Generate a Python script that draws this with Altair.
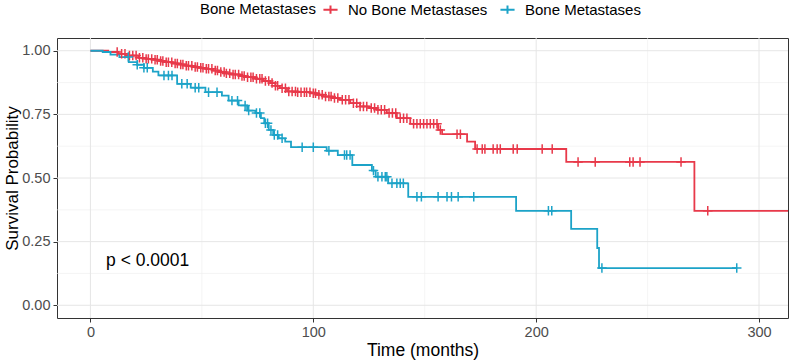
import altair as alt
import numpy as np
import pandas as pd

# Groups and colours
groups = ["No Bone Metastases", "Bone Metastases"]
colors = ["#E8394A", "#1CA3C8"]

# Kaplan-Meier steps: event time (months) and survival just after the event
red_time = [8, 12.6, 17, 21.5, 25, 27.7, 31, 33.6, 37, 39.6, 43, 45.6, 48.5, 51.6, 55, 57.5,
            61, 63.5, 67, 69.5, 74, 77.5, 80.7, 83, 85, 88.2, 93, 98.7, 101.5, 104.6, 108.5,
            112, 116.6, 121, 125, 128.6, 133, 137.5, 143.5, 156, 157.8, 169, 172.6, 213.5, 271]
red_surv = [0.995, 0.988, 0.981, 0.972, 0.968, 0.965, 0.960, 0.955, 0.950, 0.946, 0.941, 0.936,
            0.933, 0.929, 0.922, 0.916, 0.911, 0.907, 0.901, 0.896, 0.890, 0.881, 0.873, 0.862,
            0.853, 0.840, 0.837, 0.833, 0.827, 0.820, 0.814, 0.807, 0.794, 0.781, 0.775, 0.768,
            0.755, 0.735, 0.713, 0.689, 0.672, 0.643, 0.614, 0.563, 0.371]
red_end = 330
red_censor = [12, 14, 15.5, 17.5, 19, 20.5, 22, 23.5, 25, 26, 27.5, 29, 30, 31.5, 32.5, 34, 35,
              36.5, 38, 39, 40.5, 41.5, 43, 44, 45.5, 47, 48, 49.5, 50.5, 52, 53, 54.5, 56, 57,
              58.5, 60, 61, 62.5, 64, 65, 66.5, 68, 69, 70.5, 72, 73, 74.5, 76, 77, 78.5, 80,
              81.5, 83, 84, 86, 87.5, 89, 90.5, 92, 93, 94.5, 96, 97, 98.5, 100, 101, 102.5, 104,
              105.5, 107, 108, 109.5, 111, 113, 114.5, 116, 118, 119.5, 121, 122.5, 124, 126,
              127.5, 129, 130.5, 132, 134, 135.5, 137, 139, 140.5, 142, 145, 146.5, 148, 149.5,
              151, 152.5, 154, 155.5, 157, 164.5, 166, 173.5, 175.8, 177, 180.7, 182.5, 183.9,
              189.7, 191.5, 202.7, 207.2, 218.8, 226.5, 242, 243.5, 246.6, 265, 277]

blue_time = [5.5, 9, 13, 17.2, 21, 24, 28, 30.5, 38.9, 45, 51.6, 59, 62, 66.5, 70.3, 74, 76.5,
             78, 80, 82, 84.5, 87.4, 90, 106, 111, 117.5, 126.3, 128, 133.6, 142.6, 191, 215.7,
             227.4, 228.2]
blue_surv = [0.995, 0.985, 0.975, 0.955, 0.945, 0.933, 0.918, 0.903, 0.870, 0.855, 0.837, 0.824,
             0.804, 0.785, 0.765, 0.755, 0.735, 0.715, 0.689, 0.669, 0.656, 0.643, 0.621, 0.607,
             0.590, 0.551, 0.529, 0.505, 0.479, 0.426, 0.371, 0.300, 0.225, 0.146]
blue_end = 290
blue_censor = [17, 21, 24, 25.5, 33, 35, 36.6, 41, 43.4, 47, 48.6, 53, 56.8, 63.5, 66, 69.4, 71,
               74.5, 76, 78.5, 79.5, 81, 82.5, 84, 86, 95, 100, 107, 114, 115, 116.5, 127, 129,
               130.8, 132.3, 133, 135.3, 137.5, 139, 140.4, 146.5, 148.5, 156, 160, 162, 165, 172,
               205.5, 207, 229.5, 290]

# Axis breaks
x_breaks = [0, 100, 200, 300]
x_minor = [50, 150, 250]
y_breaks = [0, 0.25, 0.5, 0.75, 1.0]
y_minor = [0.125, 0.375, 0.625, 0.875]
x_domain = [-15, 313]
y_domain = [-0.05, 1.05]

pval_text = "p < 0.0001"
pval_time, pval_surv = 7, 0.173

FONT = "Liberation Sans"


def step_rows(name, times, survs, end):
    pts = [(0.0, 1.0)] + list(zip(times, survs)) + [(end, survs[-1])]
    return [{"group": name, "time": t, "surv": s} for t, s in pts]


def censor_rows(name, times, survs, cens):
    times = np.asarray(times, dtype=float)
    rows = []
    for c in cens:
        idx = np.searchsorted(times, c, side="right")
        s = 1.0 if idx == 0 else survs[idx - 1]
        rows.append({"group": name, "time": c, "surv": s})
    return rows


curves = pd.DataFrame(step_rows(groups[0], red_time, red_surv, red_end)
                      + step_rows(groups[1], blue_time, blue_surv, blue_end))
marks = pd.DataFrame(censor_rows(groups[0], red_time, red_surv, red_censor)
                     + censor_rows(groups[1], blue_time, blue_surv, blue_censor))

xs = alt.Scale(domain=x_domain, nice=False, zero=False)
ys = alt.Scale(domain=y_domain, nice=False, zero=False)
cs = alt.Scale(domain=groups, range=colors)

x_axis = alt.Axis(values=x_breaks, title="Time (months)", grid=False, domain=False,
                  tickColor="#333333", tickSize=4, labelFontSize=14.5, labelColor="#4D4D4D",
                  labelFont=FONT, titleFont=FONT, titleFontSize=17.5, titleColor="#000000",
                  titleFontWeight="normal", labelPadding=3, titlePadding=3, format="d")
y_axis = alt.Axis(values=y_breaks, title="Survival Probability", grid=False, domain=False,
                  tickColor="#333333", tickSize=4, labelFontSize=14.5, labelColor="#4D4D4D",
                  labelFont=FONT, titleFont=FONT, titleFontSize=17, titleColor="#000000",
                  titleFontWeight="normal", labelPadding=3, titlePadding=0, format=".2f")

# Panel grid (minor lines thinner than major lines)
grid_x = pd.DataFrame({"time": x_breaks})
grid_xm = pd.DataFrame({"time": x_minor})
grid_y = pd.DataFrame({"surv": y_breaks})
grid_ym = pd.DataFrame({"surv": y_minor})

gx_major = alt.Chart(grid_x).mark_rule(color="#E6E6E6", strokeWidth=1).encode(
    x=alt.X("time:Q", scale=xs, axis=x_axis))
gx_minor = alt.Chart(grid_xm).mark_rule(color="#EFEFEF", strokeWidth=0.6).encode(
    x=alt.X("time:Q", scale=xs, axis=x_axis))
gy_major = alt.Chart(grid_y).mark_rule(color="#E6E6E6", strokeWidth=1).encode(
    y=alt.Y("surv:Q", scale=ys, axis=y_axis))
gy_minor = alt.Chart(grid_ym).mark_rule(color="#EFEFEF", strokeWidth=0.6).encode(
    y=alt.Y("surv:Q", scale=ys, axis=y_axis))

legend = alt.Legend(orient="none", legendX=143, legendY=-37, direction="horizontal",
                    title="Bone Metastases", titleOrient="left", titleFont=FONT,
                    titleFontSize=15, titleFontWeight="normal", titleColor="#000000",
                    titleBaseline="middle", titlePadding=6,
                    labelFont=FONT, labelFontSize=15, labelColor="#000000", labelOffset=9,
                    columnPadding=8, symbolType="M-1,0L1,0M0,-0.6L0,0.6", symbolSize=200,
                    symbolStrokeWidth=2)

lines = alt.Chart(curves).mark_line(interpolate="step-after", strokeWidth=1.8, clip=True).encode(
    x=alt.X("time:Q", scale=xs, axis=x_axis),
    y=alt.Y("surv:Q", scale=ys, axis=y_axis),
    color=alt.Color("group:N", scale=cs, legend=legend),
)

censor_pts = alt.Chart(marks).mark_point(
    shape="M-1,0L1,0M0,-1L0,1", size=90, strokeWidth=1.5, filled=False, opacity=1, clip=True
).encode(
    x=alt.X("time:Q", scale=xs, axis=x_axis),
    y=alt.Y("surv:Q", scale=ys, axis=y_axis),
    color=alt.Color("group:N", scale=cs, legend=None),
)

pval = alt.Chart(pd.DataFrame({"time": [pval_time], "surv": [pval_surv], "label": [pval_text]})).mark_text(
    align="left", baseline="middle", font=FONT, fontSize=17.5, color="#000000"
).encode(
    x=alt.X("time:Q", scale=xs, axis=x_axis),
    y=alt.Y("surv:Q", scale=ys, axis=y_axis),
    text="label:N",
)

chart = alt.layer(gx_minor, gy_minor, gx_major, gy_major, lines, censor_pts, pval).properties(
    width=731, height=280,
    background="white",
    autosize=alt.AutoSizeParams(type="none"),
    padding={"left": 57, "top": 38, "right": 3, "bottom": 46},
).configure_view(stroke="#333333", strokeWidth=1)

chart.save("out.html", embed_options={"renderer": "svg", "actions": False})
